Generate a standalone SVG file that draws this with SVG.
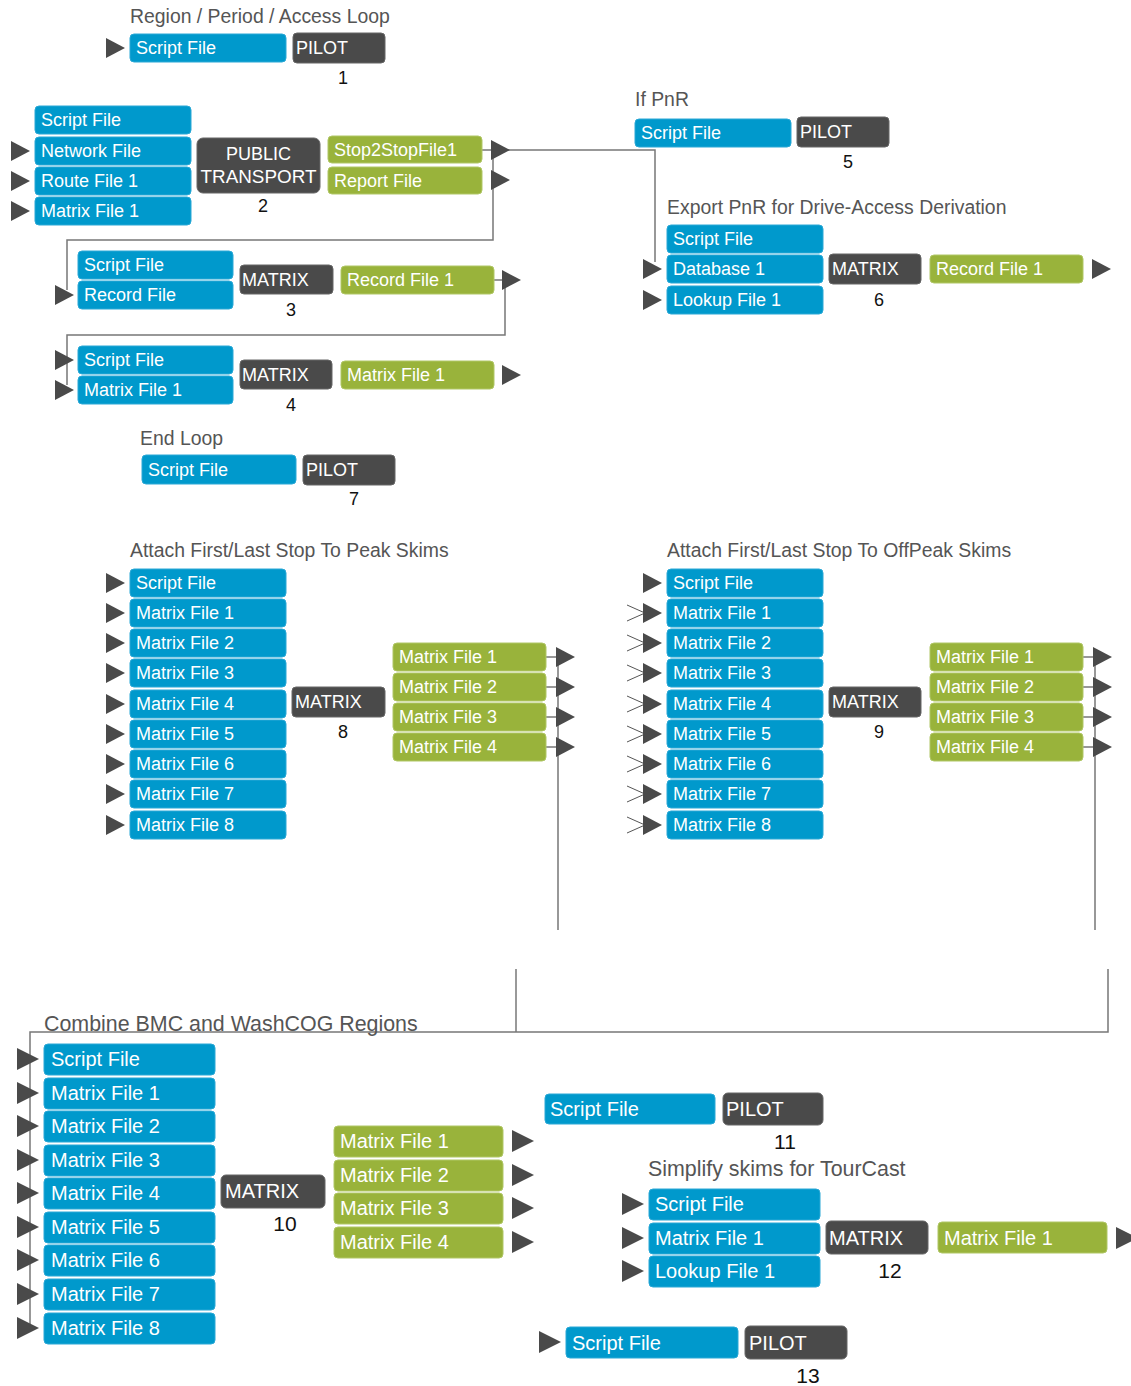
<svg xmlns="http://www.w3.org/2000/svg" xmlns:xlink="http://www.w3.org/1999/xlink" width="1131" height="1386" viewBox="0 0 1131 1386">
<style>
.b{fill:#0099cc;stroke:#2aa8d6;stroke-width:1}
.g{fill:#99b33b;stroke:#b0c766;stroke-width:1}
.d{fill:#4a4a4a;stroke:#666;stroke-width:1}
.t{font-family:"Liberation Sans",Arial,sans-serif;font-size:18px;fill:#ffffff}
.tl{font-family:"Liberation Sans",Arial,sans-serif;font-size:20px;fill:#ffffff}
.h{font-family:"Liberation Sans",Arial,sans-serif;font-size:19.4px;fill:#555555}
.hl{font-family:"Liberation Sans",Arial,sans-serif;font-size:21.4px;fill:#555555}
.n{font-family:"Liberation Sans",Arial,sans-serif;font-size:18px;fill:#111111;text-anchor:middle}
.nl{font-family:"Liberation Sans",Arial,sans-serif;font-size:21px;fill:#111111;text-anchor:middle}
.c{fill:none;stroke:#777777;stroke-width:1.5}
.ch{fill:none;stroke:#555555;stroke-width:1}
.tri{fill:#4a4a4a}
</style>
<defs>
<path id="tri" d="M0,-10 L19,0 L0,10 Z"/>
<path id="tril" d="M0,-11 L22,0 L0,11 Z"/>
</defs>

<g id="connectors">
<path class="c" d="M482,150 H655 V262"/>
<path class="c" d="M493,150 V240 H67 V290"/>
<path class="c" d="M494,280 H505 V335 H67 V385"/>
<path class="c" d="M546,657 H558 V930 M546,687 H558 M546,717 H558 M546,747 H558"/>
<path class="c" d="M1083,657 H1095 V930 M1083,687 H1095 M1083,717 H1095 M1083,747 H1095"/>
<path class="c" d="M516,969 V1032"/>
<path class="c" d="M1108,969 V1032 H30 V1328"/>
<path class="c" d="M30,1093 H37 M30,1126 H37 M30,1160 H37 M30,1193 H37 M30,1227 H37 M30,1260 H37 M30,1294 H37 M30,1328 H37"/>
<path class="ch" d="M627,605 L645,613 L627,621 M627,635 L645,643 L627,651 M627,665 L645,673 L627,681 M627,696 L645,704 L627,712 M627,726 L645,734 L627,742 M627,756 L645,764 L627,772 M627,786 L645,794 L627,802 M627,817 L645,825 L627,833"/>
</g>

<g id="node1">
<text class="h" x="130" y="23">Region / Period / Access Loop</text>
<use href="#tri" class="tri" x="106" y="48"/>
<rect class="b" x="130" y="34" width="156" height="28" rx="4"/>
<text class="t" x="136" y="54">Script File</text>
<rect class="d" x="293" y="33" width="92" height="30" rx="4"/>
<text class="t" x="296" y="54">PILOT</text>
<text class="n" x="343" y="84">1</text>
</g>

<g id="node2">
<rect class="b" x="35" y="106" width="156" height="28" rx="4"/>
<text class="t" x="41" y="126">Script File</text>
<use href="#tri" class="tri" x="11" y="151"/>
<rect class="b" x="35" y="137" width="156" height="28" rx="4"/>
<text class="t" x="41" y="157">Network File</text>
<use href="#tri" class="tri" x="11" y="181"/>
<rect class="b" x="35" y="167" width="156" height="28" rx="4"/>
<text class="t" x="41" y="187">Route File 1</text>
<use href="#tri" class="tri" x="11" y="211"/>
<rect class="b" x="35" y="197" width="156" height="28" rx="4"/>
<text class="t" x="41" y="217">Matrix File 1</text>
<rect class="d" x="197" y="138" width="123" height="55" rx="6"/>
<text class="t" x="258.5" y="160" text-anchor="middle">PUBLIC</text>
<text class="t" x="258.5" y="183" text-anchor="middle" textLength="116" lengthAdjust="spacingAndGlyphs">TRANSPORT</text>
<text class="n" x="263" y="212">2</text>
<rect class="g" x="328" y="136" width="154" height="27" rx="4"/>
<text class="t" x="334" y="156">Stop2StopFile1</text>
<rect class="g" x="328" y="167" width="154" height="27" rx="4"/>
<text class="t" x="334" y="187">Report File</text>
<use href="#tri" class="tri" x="491" y="150"/>
<use href="#tri" class="tri" x="491" y="180"/>
</g>

<g id="node3">
<rect class="b" x="78" y="251" width="155" height="28" rx="4"/>
<text class="t" x="84" y="271">Script File</text>
<use href="#tri" class="tri" x="55" y="295"/>
<rect class="b" x="78" y="281" width="155" height="28" rx="4"/>
<text class="t" x="84" y="301">Record File</text>
<rect class="d" x="240" y="265" width="93" height="29" rx="4"/>
<text class="t" x="242" y="286">MATRIX</text>
<text class="n" x="291" y="316">3</text>
<rect class="g" x="341" y="266" width="153" height="28" rx="4"/>
<text class="t" x="347" y="286">Record File 1</text>
<use href="#tri" class="tri" x="502" y="280"/>
</g>

<g id="node4">
<use href="#tri" class="tri" x="55" y="360"/>
<rect class="b" x="78" y="346" width="155" height="28" rx="4"/>
<text class="t" x="84" y="366">Script File</text>
<use href="#tri" class="tri" x="55" y="390"/>
<rect class="b" x="78" y="376" width="155" height="28" rx="4"/>
<text class="t" x="84" y="396">Matrix File 1</text>
<rect class="d" x="240" y="360" width="92" height="29" rx="4"/>
<text class="t" x="242" y="381">MATRIX</text>
<text class="n" x="291" y="411">4</text>
<rect class="g" x="341" y="361" width="153" height="28" rx="4"/>
<text class="t" x="347" y="381">Matrix File 1</text>
<use href="#tri" class="tri" x="502" y="375"/>
</g>

<g id="node5">
<text class="h" x="635" y="106">If PnR</text>
<rect class="b" x="635" y="119" width="156" height="28" rx="4"/>
<text class="t" x="641" y="139">Script File</text>
<rect class="d" x="797" y="117" width="92" height="30" rx="4"/>
<text class="t" x="800" y="138">PILOT</text>
<text class="n" x="848" y="168">5</text>
</g>

<g id="node6">
<text class="h" x="667" y="214">Export PnR for Drive-Access Derivation</text>
<rect class="b" x="667" y="225" width="156" height="28" rx="4"/>
<text class="t" x="673" y="245">Script File</text>
<use href="#tri" class="tri" x="643" y="269"/>
<rect class="b" x="667" y="255" width="156" height="28" rx="4"/>
<text class="t" x="673" y="275">Database 1</text>
<use href="#tri" class="tri" x="643" y="300"/>
<rect class="b" x="667" y="286" width="156" height="28" rx="4"/>
<text class="t" x="673" y="306">Lookup File 1</text>
<rect class="d" x="829" y="254" width="92" height="30" rx="4"/>
<text class="t" x="832" y="275">MATRIX</text>
<text class="n" x="879" y="306">6</text>
<rect class="g" x="930" y="255" width="153" height="28" rx="4"/>
<text class="t" x="936" y="275">Record File 1</text>
<use href="#tri" class="tri" x="1092" y="269"/>
</g>

<g id="node7">
<text class="h" x="140" y="445">End Loop</text>
<rect class="b" x="142" y="455" width="154" height="29" rx="4"/>
<text class="t" x="148" y="476">Script File</text>
<rect class="d" x="303" y="455" width="92" height="30" rx="4"/>
<text class="t" x="306" y="476">PILOT</text>
<text class="n" x="354" y="505">7</text>
</g>

<g id="node8">
<text class="h" x="130" y="557">Attach First/Last Stop To Peak Skims</text>
<use href="#tri" class="tri" x="106" y="583"/>
<rect class="b" x="130" y="569" width="156" height="28" rx="4"/>
<text class="t" x="136" y="589">Script File</text>
<use href="#tri" class="tri" x="106" y="613"/>
<rect class="b" x="130" y="599" width="156" height="28" rx="4"/>
<text class="t" x="136" y="619">Matrix File 1</text>
<use href="#tri" class="tri" x="106" y="643"/>
<rect class="b" x="130" y="629" width="156" height="28" rx="4"/>
<text class="t" x="136" y="649">Matrix File 2</text>
<use href="#tri" class="tri" x="106" y="673"/>
<rect class="b" x="130" y="659" width="156" height="28" rx="4"/>
<text class="t" x="136" y="679">Matrix File 3</text>
<use href="#tri" class="tri" x="106" y="704"/>
<rect class="b" x="130" y="690" width="156" height="28" rx="4"/>
<text class="t" x="136" y="710">Matrix File 4</text>
<use href="#tri" class="tri" x="106" y="734"/>
<rect class="b" x="130" y="720" width="156" height="28" rx="4"/>
<text class="t" x="136" y="740">Matrix File 5</text>
<use href="#tri" class="tri" x="106" y="764"/>
<rect class="b" x="130" y="750" width="156" height="28" rx="4"/>
<text class="t" x="136" y="770">Matrix File 6</text>
<use href="#tri" class="tri" x="106" y="794"/>
<rect class="b" x="130" y="780" width="156" height="28" rx="4"/>
<text class="t" x="136" y="800">Matrix File 7</text>
<use href="#tri" class="tri" x="106" y="825"/>
<rect class="b" x="130" y="811" width="156" height="28" rx="4"/>
<text class="t" x="136" y="831">Matrix File 8</text>
<rect class="d" x="292" y="687" width="93" height="30" rx="4"/>
<text class="t" x="295" y="708">MATRIX</text>
<text class="n" x="343" y="738">8</text>
<rect class="g" x="393" y="643" width="153" height="28" rx="4"/>
<text class="t" x="399" y="663">Matrix File 1</text>
<rect class="g" x="393" y="673" width="153" height="28" rx="4"/>
<text class="t" x="399" y="693">Matrix File 2</text>
<rect class="g" x="393" y="703" width="153" height="28" rx="4"/>
<text class="t" x="399" y="723">Matrix File 3</text>
<rect class="g" x="393" y="733" width="153" height="28" rx="4"/>
<text class="t" x="399" y="753">Matrix File 4</text>
<use href="#tri" class="tri" x="556" y="657"/>
<use href="#tri" class="tri" x="556" y="687"/>
<use href="#tri" class="tri" x="556" y="717"/>
<use href="#tri" class="tri" x="556" y="747"/>
</g>

<g id="node9">
<text class="h" x="667" y="557">Attach First/Last Stop To OffPeak Skims</text>
<use href="#tri" class="tri" x="643" y="583"/>
<rect class="b" x="667" y="569" width="156" height="28" rx="4"/>
<text class="t" x="673" y="589">Script File</text>
<use href="#tri" class="tri" x="643" y="613"/>
<rect class="b" x="667" y="599" width="156" height="28" rx="4"/>
<text class="t" x="673" y="619">Matrix File 1</text>
<use href="#tri" class="tri" x="643" y="643"/>
<rect class="b" x="667" y="629" width="156" height="28" rx="4"/>
<text class="t" x="673" y="649">Matrix File 2</text>
<use href="#tri" class="tri" x="643" y="673"/>
<rect class="b" x="667" y="659" width="156" height="28" rx="4"/>
<text class="t" x="673" y="679">Matrix File 3</text>
<use href="#tri" class="tri" x="643" y="704"/>
<rect class="b" x="667" y="690" width="156" height="28" rx="4"/>
<text class="t" x="673" y="710">Matrix File 4</text>
<use href="#tri" class="tri" x="643" y="734"/>
<rect class="b" x="667" y="720" width="156" height="28" rx="4"/>
<text class="t" x="673" y="740">Matrix File 5</text>
<use href="#tri" class="tri" x="643" y="764"/>
<rect class="b" x="667" y="750" width="156" height="28" rx="4"/>
<text class="t" x="673" y="770">Matrix File 6</text>
<use href="#tri" class="tri" x="643" y="794"/>
<rect class="b" x="667" y="780" width="156" height="28" rx="4"/>
<text class="t" x="673" y="800">Matrix File 7</text>
<use href="#tri" class="tri" x="643" y="825"/>
<rect class="b" x="667" y="811" width="156" height="28" rx="4"/>
<text class="t" x="673" y="831">Matrix File 8</text>
<rect class="d" x="829" y="687" width="92" height="30" rx="4"/>
<text class="t" x="832" y="708">MATRIX</text>
<text class="n" x="879" y="738">9</text>
<rect class="g" x="930" y="643" width="153" height="28" rx="4"/>
<text class="t" x="936" y="663">Matrix File 1</text>
<rect class="g" x="930" y="673" width="153" height="28" rx="4"/>
<text class="t" x="936" y="693">Matrix File 2</text>
<rect class="g" x="930" y="703" width="153" height="28" rx="4"/>
<text class="t" x="936" y="723">Matrix File 3</text>
<rect class="g" x="930" y="733" width="153" height="28" rx="4"/>
<text class="t" x="936" y="753">Matrix File 4</text>
<use href="#tri" class="tri" x="1093" y="657"/>
<use href="#tri" class="tri" x="1093" y="687"/>
<use href="#tri" class="tri" x="1093" y="717"/>
<use href="#tri" class="tri" x="1093" y="747"/>
</g>

<g id="node10">
<text class="hl" x="44" y="1031">Combine BMC and WashCOG Regions</text>
<use href="#tril" class="tri" x="17" y="1059"/>
<rect class="b" x="44" y="1044" width="171" height="31" rx="4"/>
<text class="tl" x="51" y="1066">Script File</text>
<use href="#tril" class="tri" x="17" y="1093"/>
<rect class="b" x="44" y="1078" width="171" height="31" rx="4"/>
<text class="tl" x="51" y="1100">Matrix File 1</text>
<use href="#tril" class="tri" x="17" y="1126"/>
<rect class="b" x="44" y="1111" width="171" height="31" rx="4"/>
<text class="tl" x="51" y="1133">Matrix File 2</text>
<use href="#tril" class="tri" x="17" y="1160"/>
<rect class="b" x="44" y="1145" width="171" height="31" rx="4"/>
<text class="tl" x="51" y="1167">Matrix File 3</text>
<use href="#tril" class="tri" x="17" y="1193"/>
<rect class="b" x="44" y="1178" width="171" height="31" rx="4"/>
<text class="tl" x="51" y="1200">Matrix File 4</text>
<use href="#tril" class="tri" x="17" y="1227"/>
<rect class="b" x="44" y="1212" width="171" height="31" rx="4"/>
<text class="tl" x="51" y="1234">Matrix File 5</text>
<use href="#tril" class="tri" x="17" y="1260"/>
<rect class="b" x="44" y="1245" width="171" height="31" rx="4"/>
<text class="tl" x="51" y="1267">Matrix File 6</text>
<use href="#tril" class="tri" x="17" y="1294"/>
<rect class="b" x="44" y="1279" width="171" height="31" rx="4"/>
<text class="tl" x="51" y="1301">Matrix File 7</text>
<use href="#tril" class="tri" x="17" y="1328"/>
<rect class="b" x="44" y="1313" width="171" height="31" rx="4"/>
<text class="tl" x="51" y="1335">Matrix File 8</text>
<rect class="d" x="221" y="1175" width="104" height="33" rx="5"/>
<text class="tl" x="225" y="1198">MATRIX</text>
<text class="nl" x="285" y="1231">10</text>
<rect class="g" x="334" y="1126" width="169" height="31" rx="4"/>
<text class="tl" x="340" y="1148">Matrix File 1</text>
<rect class="g" x="334" y="1160" width="169" height="31" rx="4"/>
<text class="tl" x="340" y="1182">Matrix File 2</text>
<rect class="g" x="334" y="1193" width="169" height="31" rx="4"/>
<text class="tl" x="340" y="1215">Matrix File 3</text>
<rect class="g" x="334" y="1227" width="169" height="31" rx="4"/>
<text class="tl" x="340" y="1249">Matrix File 4</text>
<use href="#tril" class="tri" x="512" y="1141"/>
<use href="#tril" class="tri" x="512" y="1175"/>
<use href="#tril" class="tri" x="512" y="1208"/>
<use href="#tril" class="tri" x="512" y="1242"/>
</g>

<g id="node11">
<rect class="b" x="545" y="1094" width="170" height="30" rx="4"/>
<text class="tl" x="550" y="1116">Script File</text>
<rect class="d" x="723" y="1093" width="100" height="32" rx="5"/>
<text class="tl" x="726" y="1116">PILOT</text>
<text class="nl" x="785" y="1149">11</text>
</g>

<g id="node12">
<text class="hl" x="648" y="1176">Simplify skims for TourCast</text>
<use href="#tril" class="tri" x="622" y="1204"/>
<rect class="b" x="649" y="1189" width="171" height="31" rx="4"/>
<text class="tl" x="655" y="1211">Script File</text>
<use href="#tril" class="tri" x="622" y="1238"/>
<rect class="b" x="649" y="1223" width="171" height="31" rx="4"/>
<text class="tl" x="655" y="1245">Matrix File 1</text>
<use href="#tril" class="tri" x="622" y="1271"/>
<rect class="b" x="649" y="1256" width="171" height="31" rx="4"/>
<text class="tl" x="655" y="1278">Lookup File 1</text>
<rect class="d" x="826" y="1221" width="102" height="33" rx="5"/>
<text class="tl" x="829" y="1245">MATRIX</text>
<text class="nl" x="890" y="1278">12</text>
<rect class="g" x="938" y="1222" width="169" height="31" rx="4"/>
<text class="tl" x="944" y="1245">Matrix File 1</text>
<use href="#tril" class="tri" x="1116" y="1238"/>
</g>

<g id="node13">
<use href="#tril" class="tri" x="539" y="1342"/>
<rect class="b" x="566" y="1327" width="172" height="31" rx="4"/>
<text class="tl" x="572" y="1350">Script File</text>
<rect class="d" x="745" y="1326" width="102" height="33" rx="5"/>
<text class="tl" x="749" y="1350">PILOT</text>
<text class="nl" x="808" y="1383">13</text>
</g>
</svg>
